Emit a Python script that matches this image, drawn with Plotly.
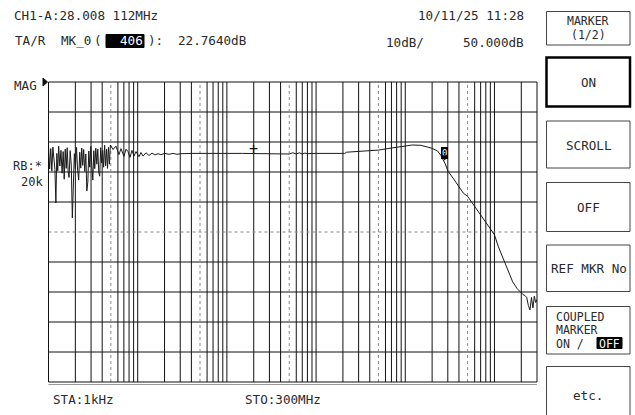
import math
import plotly.graph_objects as go

W, H = 635, 415
FONT = "DejaVu Sans Mono"
INK = "#2a2a2a"

# ---- sweep / display settings ----
start_hz = 1e3
stop_hz = 300e6
ref_level_db = 50.0
db_per_div = 10.0
n_div = 10

# ---- measured magnitude trace ----
# low-frequency region (noisy), kHz / dB
noise_khz = [1.00, 1.03, 1.06, 1.09, 1.12, 1.15, 1.18, 1.21, 1.24, 1.27,
             1.30, 1.34, 1.38, 1.42, 1.46, 1.50, 1.54, 1.58, 1.62, 1.66,
             1.70, 1.75, 1.80, 1.85, 1.90, 1.95, 2.00, 2.06, 2.12, 2.18,
             2.24, 2.30, 2.36, 2.42, 2.48, 2.55, 2.62, 2.69, 2.76, 2.83,
             2.90, 2.98, 3.06, 3.14, 3.22, 3.30, 3.39, 3.48, 3.57, 3.66,
             3.75, 3.85, 3.95, 4.05, 4.15, 4.26, 4.37, 4.48, 4.59, 4.70,
             4.82, 4.94]
noise_db = [28.6, 21.0, 27.8, 20.3, 28.3, 23.5, 20.8, 9.7, 26.2, 20.4,
            28.6, 22.0, 27.2, 19.6, 26.8, 17.6, 27.6, 21.2, 28.1, 20.1,
            18.2, 27.1, 22.3, 4.7, 14.6, 26.1, 21.1, 28.2, 20.6, 17.3,
            26.6, 21.3, 28.0, 22.2, 27.5, 20.2, 26.0, 13.7, 16.6, 27.0,
            21.6, 28.5, 22.0, 17.3, 27.1, 21.1, 28.0, 22.6, 27.6, 20.0,
            18.6, 28.1, 23.0, 27.2, 21.6, 28.9, 22.1, 27.6, 21.2, 28.2,
            22.6, 29.0]

# settling ripple, kHz / dB
settle_khz = [5.29, 5.71, 6.17, 6.50, 7.02, 7.39, 7.79, 8.20, 8.63, 9.09,
              9.57, 10.34, 10.89, 11.47, 12.39, 13.39, 14.47, 15.6, 16.9, 18.2,
              20.2, 22.4, 24.9, 27.6, 30.6, 34.8]
settle_db = [27.5, 28.6, 25.8, 27.8, 25.2, 27.6, 26.8, 24.9, 27.2, 25.3,
             26.8, 25.1, 26.5, 25.3, 26.4, 25.5, 26.3, 25.7, 26.1, 25.8,
             26.2, 25.9, 26.2, 25.9, 26.1, 26.2]

# passband and roll-off, MHz / dB
band_mhz = [0.04, 0.05, 0.07, 0.1, 0.15, 0.2, 0.3, 0.4, 0.5, 0.55,
            0.6, 0.65, 0.7, 0.75, 0.8, 1.0, 1.5, 2.1, 2.2, 3.0,
            4.0, 5.0, 7.0, 10.0, 12.0, 15.0, 18.0, 20.0, 23.0, 25.0,
            28.008112, 30.0, 35.0, 40.0, 45.0, 50.0, 60.0, 70.0, 80.0, 90.0,
            100.0, 110.0, 120.0, 130.0, 140.0, 150.0, 160.0, 180.0, 200.0, 210.0,
            220.0, 230.0, 240.0, 250.0, 260.0, 270.0, 280.0, 290.0, 300.0]
band_db = [26.2, 26.2, 26.1, 26.2, 26.2, 26.2, 26.2, 26.2, 26.0, 26.4,
           26.0, 26.4, 26.0, 26.3, 26.1, 26.2, 26.2, 26.2, 26.6, 26.8,
           27.0, 27.3, 28.0, 28.7, 29.0, 28.9, 28.4, 27.9, 27.0, 25.6,
           22.764, 20.4, 17.6, 15.1, 12.9, 11.9, 8.6, 5.7, 3.3, 1.1,
           -0.9, -4.7, -7.6, -10.2, -12.5, -14.8, -16.6, -18.9, -20.5, -20.9,
           -21.2, -21.8, -24.5, -26.0, -21.8, -25.3, -21.4, -23.5, -22.5]

# markers
marker_hz = 28.008112e6
marker_db = 22.7640
marker_point = 406
ref_marker_hz = 200e3
ref_marker_db = 26.2

# ---- header / footer / softkey texts ----
header_left = "CH1-A:28.008 112MHz"
header_time = "10/11/25 11:28"
scale_text = "10dB/"
ref_text = "50.000dB"
footer_start = "STA:1kHz"
footer_stop = "STO:300MHz"
softkeys = ["ON", "SCROLL", "OFF", "REF MKR No"]

freq_hz = ([k * 1e3 for k in noise_khz] + [k * 1e3 for k in settle_khz]
           + [m * 1e6 for m in band_mhz])
mag_db = noise_db + settle_db + band_db

bottom_db = ref_level_db - db_per_div * n_div

# plot box in pixels
PL, PR, PT, PB = 48.5, 537.0, 82.0, 382.0


def fx(x):
    return x / W


def fy(y):
    return 1 - y / H


fig = go.Figure()

# vertical log grid (k x 10^n); the 5 x 10^n lines are dotted
solid_x, solid_y, dot_x, dot_y = [], [], [], []
for e in range(3, 9):
    for k in range(1, 10):
        f = k * 10 ** e
        if not (start_hz < f < stop_hz):
            continue
        if k == 5:
            dot_x += [f, f, None]
            dot_y += [bottom_db, ref_level_db, None]
        else:
            solid_x += [f, f, None]
            solid_y += [bottom_db, ref_level_db, None]

# horizontal grid every division; centre line dotted
for i in range(1, n_div):
    lvl = ref_level_db - i * db_per_div
    if i == n_div // 2:
        dot_x += [start_hz, stop_hz, None]
        dot_y += [lvl, lvl, None]
    else:
        solid_x += [start_hz, stop_hz, None]
        solid_y += [lvl, lvl, None]

fig.add_trace(go.Scatter(x=solid_x, y=solid_y, mode="lines",
                         line=dict(color="#111111", width=1),
                         hoverinfo="skip", showlegend=False))
fig.add_trace(go.Scatter(x=dot_x, y=dot_y, mode="lines",
                         line=dict(color="#888888", width=1, dash="dot"),
                         hoverinfo="skip", showlegend=False))

# measured trace
fig.add_trace(go.Scatter(x=freq_hz, y=mag_db, mode="lines",
                         line=dict(color="#1a1a1a", width=1),
                         showlegend=False))

shapes = []


def hline(y, x0, x1, color="#111111", width=1):
    shapes.append(dict(type="line", xref="paper", yref="paper",
                       x0=fx(x0), x1=fx(x1), y0=fy(y), y1=fy(y),
                       line=dict(color=color, width=width)))


def vline(x, y0, y1, color="#111111", width=1):
    shapes.append(dict(type="line", xref="paper", yref="paper",
                       x0=fx(x), x1=fx(x), y0=fy(y0), y1=fy(y1),
                       line=dict(color=color, width=width)))


def rect(x0, y0, x1, y1, line_color="#444444", width=1, fill=None):
    shapes.append(dict(type="rect", xref="paper", yref="paper",
                       x0=fx(x0), x1=fx(x1), y0=fy(y0), y1=fy(y1),
                       line=dict(color=line_color, width=width),
                       fillcolor=fill if fill else "rgba(0,0,0,0)"))


# frame
hline(PT, PL, PR)
hline(PB, PL, PR)
hline(PB + 2.5, PL, PR, color="#999999")
vline(PL, PT, PB)
vline(PR, PT, PB)

# MAG pointer triangle
shapes.append(dict(type="path", xref="paper", yref="paper",
                   path=f"M {fx(43)},{fy(78)} L {fx(47.5)},{fy(82)} L {fx(43)},{fy(86)} Z",
                   fillcolor="#111111", line=dict(color="#111111", width=1)))

# highlighted point number field
rect(106, 34.5, 144, 47.5, line_color="#000000", fill="#000000")

# softkey boxes
rect(546.5, 11.5, 630, 45)
rect(546.5, 57.5, 630, 106.5, line_color="#000000", width=2.5)
box_rows = [(121, 168), (182.5, 231.5), (245, 291.5)]
for top, bot in box_rows:
    rect(546.5, top, 630, bot)
rect(546.5, 306.5, 630, 354)
rect(546.5, 366.5, 630, 420)
rect(597, 337.5, 622, 348.5, line_color="#000000", fill="#000000")

annotations = []


def label(text, x, y, anchor="left", size=12.6, color=INK, pad=1):
    annotations.append(dict(text=text, x=fx(x), y=fy(y), xref="paper", yref="paper",
                            xanchor=anchor, yanchor="middle", showarrow=False,
                            borderpad=pad,
                            font=dict(family=FONT, size=size, color=color)))


label(header_left, 12, 15)
label(header_time, 526, 15, anchor="right")
label("TA/R", 13, 41)
label("MK_0", 59, 41)
label("(", 92, 41)
label(str(marker_point), 145, 41, anchor="right", color="#ffffff")
label("):", 146, 41)
label(f"{marker_db:.4f}dB", 176, 41)
label(scale_text, 384, 43)
label(ref_text, 526, 43, anchor="right")
label("MAG", 12, 85)
label("RB:*", 12, 165.5, size=12, pad=0)
label("20k", 44, 181.5, anchor="right", size=12, pad=0)
label(footer_start, 51, 399)
label(footer_stop, 243, 399)

# softkey labels
label("MARKER", 588, 21, anchor="center", size=11.5, pad=0)
label("(1/2)", 588, 35, anchor="center", size=11.5, pad=0)
key_y = [82, 145, 207.5, 268.5]
for txt, yy in zip(softkeys, key_y):
    label(txt, 588.5, yy, anchor="center")
label("COUPLED", 555, 316.5, size=11.5, pad=0)
label("MARKER", 555, 330, size=11.5, pad=0)
label("ON /", 555, 343.5, size=11.5, pad=0)
label("OFF", 598, 343.5, size=11.5, pad=0, color="#ffffff")
label("etc.", 588, 395.5, anchor="center")

# marker 0 flag with its pointer
mx = math.log10(marker_hz)
annotations.append(dict(x=mx, y=marker_db, xref="x", yref="y", text="0",
                        showarrow=True, ax=-1, ay=-11, axref="pixel", ayref="pixel",
                        arrowhead=2, arrowsize=0.9, arrowwidth=1.2, arrowcolor="#000000",
                        standoff=3, bgcolor="#000000", borderpad=0,
                        bordercolor="#000000", borderwidth=1,
                        font=dict(family=FONT, size=9, color="#ffffff")))
# reference marker cross
annotations.append(dict(x=math.log10(ref_marker_hz), y=ref_marker_db, xref="x", yref="y",
                        text="+", showarrow=False, xanchor="center", yanchor="middle",
                        yshift=4, font=dict(family=FONT, size=15, color="#111111")))

fig.update_layout(
    width=W, height=H, autosize=False,
    margin=dict(l=0, r=0, t=0, b=0, pad=0),
    paper_bgcolor="#ffffff", plot_bgcolor="#ffffff",
    showlegend=False,
    xaxis=dict(type="log", domain=[fx(PL), fx(PR)],
               range=[math.log10(start_hz), math.log10(stop_hz)],
               showgrid=False, zeroline=False, showline=False,
               showticklabels=False, ticks="", fixedrange=True),
    yaxis=dict(domain=[fy(PB), fy(PT)], range=[bottom_db, ref_level_db],
               showgrid=False, zeroline=False, showline=False,
               showticklabels=False, ticks="", fixedrange=True),
    shapes=shapes,
    annotations=annotations,
)

fig.write_html("out.html")
